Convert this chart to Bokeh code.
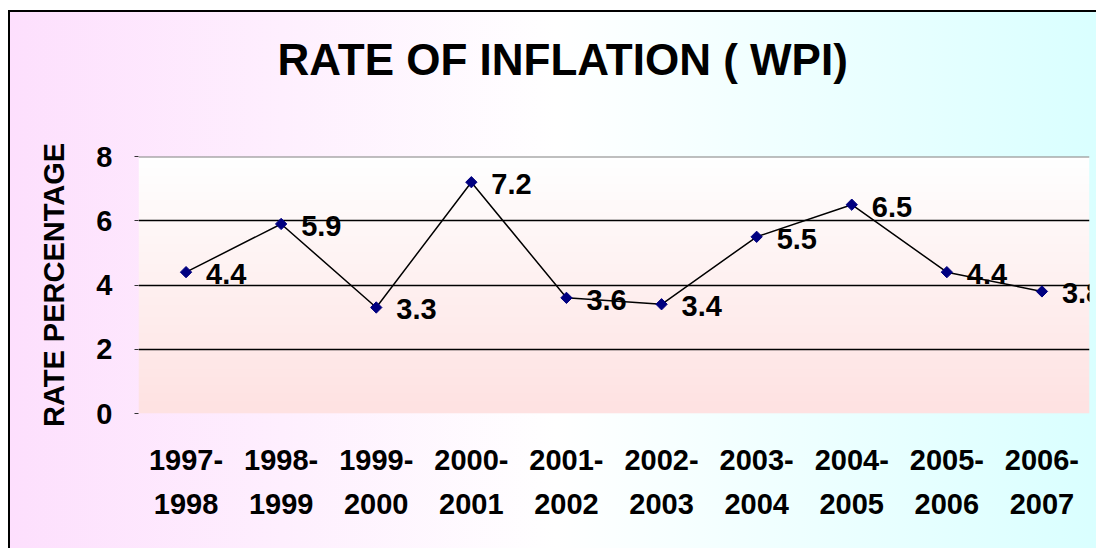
import numpy as np
from bokeh.plotting import figure
from bokeh.models import (ColumnDataSource, LabelSet, FactorRange, Range1d,
                          FixedTicker, Span, Title)
from bokeh.core.properties import value
from bokeh.embed import file_html
from bokeh.resources import INLINE

# ---- data ----
years = ["1997-\n1998", "1998-\n1999", "1999-\n2000", "2000-\n2001", "2001-\n2002",
         "2002-\n2003", "2003-\n2004", "2004-\n2005", "2005-\n2006", "2006-\n2007"]
rates = [4.4, 5.9, 3.3, 7.2, 3.6, 3.4, 5.5, 6.5, 4.4, 3.8]
rate_labels = ["4.4", "5.9", "3.3", "7.2", "3.6", "3.4", "5.5", "6.5", "4.4", "3.8"]
y_ticks = [0, 2, 4, 6, 8]
grid_ticks = [2, 4, 6]
title_text = "RATE OF INFLATION ( WPI)"

FONT = "Liberation Sans"

src = ColumnDataSource(dict(x=years, y=rates, lab=rate_labels))

p = figure(width=1096, height=548, output_backend="svg", toolbar_location=None,
           x_range=FactorRange(*years, range_padding=0), y_range=Range1d(0, 8),
           min_border_left=138, min_border_right=7, min_border_top=156,
           min_border_bottom=135, title=title_text)

p.title.text_font = FONT
p.title.text_font_style = "bold"
p.title.text_font_size = "44px"
p.title.text_color = "black"
p.title.align = "left"
p.title.offset = 139
p.title.standoff = 20

# empty spacer between the frame and the title
p.add_layout(Title(text=" ", text_font_size="10px", standoff=50), "above")

p.border_fill_color = None
p.border_fill_alpha = 0
p.background_fill_alpha = 0
p.outline_line_color = None
p.styles = {
    "background": "linear-gradient(black, black) 8px 10px / 100% 2px no-repeat, "
                  "linear-gradient(black, black) 8px 10px / 2px 100% no-repeat, "
                  "linear-gradient(to right, #FDDFFD 0%, #FFFFFF 50%, #D9FFFF 100%) 8px 10px / 100% 100% no-repeat"
}

# plot-area vertical gradient (white top -> pale pink bottom), synthetic x coords
n = 64
top = np.array([255, 255, 255], dtype=float)
bot = np.array([254, 226, 226], dtype=float)
img = np.empty((n, 2), dtype=np.uint32)
view = img.view(dtype=np.uint8).reshape((n, 2, 4))
for i in range(n):
    t = i / (n - 1)
    c = bot * (1 - t) + top * t
    view[i, :, 0] = int(c[0])
    view[i, :, 1] = int(c[1])
    view[i, :, 2] = int(c[2])
    view[i, :, 3] = 255
p.image_rgba(image=[img], x=0, y=0, dw=len(years), dh=8, level="image")

# grid
p.xgrid.visible = False
p.ygrid.ticker = FixedTicker(ticks=grid_ticks)
p.ygrid.grid_line_color = "black"
p.ygrid.grid_line_width = 1.5
p.add_layout(Span(location=8, dimension="width", line_color="#808080", line_width=2))

# line + markers
p.line("x", "y", source=src, line_color="black", line_width=1.5)
p.scatter("x", "y", source=src, marker="square", size=8, angle=np.pi / 4,
          fill_color="#000080", line_color="#000080")

labels = LabelSet(x="x", y="y", text="lab", source=src, x_offset=20, y_offset=-2,
                  text_baseline="middle", text_align="left",
                  text_font=value(FONT), text_font_style="bold", text_font_size="29px",
                  text_color="black")
p.add_layout(labels)

# axes
ya = p.yaxis[0]
ya.ticker = FixedTicker(ticks=y_ticks)
ya.axis_line_color = None
ya.major_tick_out = 4
ya.major_tick_in = 0
ya.major_tick_line_color = "#333333"
ya.minor_tick_line_color = None
ya.major_label_text_font = FONT
ya.major_label_text_font_style = "bold"
ya.major_label_text_font_size = "29px"
ya.major_label_text_color = "black"
ya.major_label_standoff = 22
ya.axis_label = "RATE PERCENTAGE"
ya.axis_label_text_font = FONT
ya.axis_label_text_font_style = "bold"
ya.axis_label_text_font_size = "29px"
ya.axis_label_text_color = "black"
ya.axis_label_standoff = 23

xa = p.xaxis[0]
xa.axis_line_color = None
xa.major_tick_line_color = None
xa.minor_tick_line_color = None
xa.major_label_text_font = FONT
xa.major_label_text_font_style = "bold"
xa.major_label_text_font_size = "29px"
xa.major_label_text_color = "black"
xa.major_label_text_line_height = 1.4
xa.major_label_standoff = 24

open("out.html", "w").write(file_html(p, INLINE))
